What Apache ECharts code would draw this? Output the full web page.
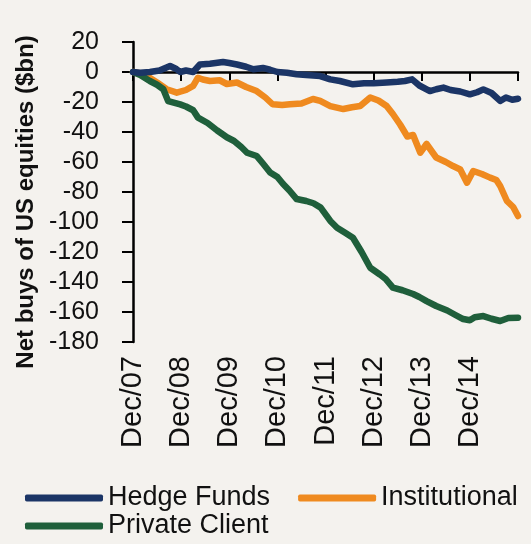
<!DOCTYPE html>
<html>
<head>
<meta charset="utf-8">
<script src="https://cdn.jsdelivr.net/npm/echarts@6/dist/echarts.min.js"></script>
<style>
html,body{margin:0;padding:0;background:#f4f2ee;}
#c{width:531px;height:544px;}
</style>
</head>
<body>
<div id="c"></div>
<script>
// Tick labels (x = years after Dec 2007)
var xTickLabels = ['Dec/07','Dec/08','Dec/09','Dec/10','Dec/11','Dec/12','Dec/13','Dec/14',''];
var seriesNames = ['Hedge Funds','Institutional','Private Client'];

// Hedge Funds: time (years after Dec 2007), value ($bn)
var hedgeT = [0,0.15,0.35,0.55,0.77,0.9,0.98,1.1,1.25,1.39,1.6,1.87,2.0,2.16,2.35,2.5,2.7,2.85,3.0,3.2,3.4,3.6,3.89,4.1,4.3,4.57,4.8,5.0,5.27,5.5,5.65,5.8,5.95,6.17,6.3,6.45,6.6,6.8,7.0,7.15,7.28,7.45,7.63,7.75,7.88,8.0];
var hedgeV = [0,-0.5,0,1,4,2,0,1,0,5,5.5,6.7,6,5,3.5,1.8,2.7,1.5,0,-0.5,-1.5,-2,-2.7,-4.9,-6,-8.2,-7.5,-7.5,-7,-6.5,-6,-4.9,-9,-12.7,-11.5,-10.4,-12,-13,-14.9,-13.5,-11.6,-14,-19.3,-17,-18.5,-17.8];

// Institutional
var instT = [0,0.15,0.29,0.5,0.7,0.91,1.1,1.25,1.35,1.45,1.6,1.8,1.95,2.16,2.35,2.57,2.75,2.9,3.1,3.26,3.5,3.74,3.89,4.1,4.37,4.55,4.72,4.93,5.1,5.27,5.4,5.55,5.7,5.82,5.97,6.1,6.3,6.5,6.65,6.8,6.94,7.07,7.25,7.42,7.55,7.63,7.77,7.9,8.0];
var instV = [0,-1,-2.7,-7,-11.5,-13.8,-12,-9.3,-3.8,-5,-6,-5.5,-8,-7,-10,-12.7,-17,-21.5,-22,-21.5,-21,-18,-19.3,-22.7,-24.7,-23.5,-22.7,-17,-19,-22.7,-28,-35,-43,-42,-53.8,-48,-57,-60,-62.7,-65,-73.8,-66,-68,-70.4,-72,-76,-86,-90,-96];

// Private Client
var privT = [0,0.15,0.35,0.5,0.63,0.73,0.98,1.1,1.25,1.35,1.55,1.75,1.95,2.1,2.25,2.37,2.57,2.7,2.85,3.0,3.12,3.25,3.4,3.6,3.75,3.9,4.1,4.24,4.4,4.57,4.75,4.93,5.13,5.25,5.4,5.6,5.82,5.95,6.1,6.3,6.53,6.7,6.86,7.0,7.1,7.28,7.45,7.63,7.8,8.0];
var privV = [0,-2,-6,-8.5,-11.5,-19.4,-21.6,-23,-25.5,-30.4,-34,-39,-43.5,-46,-50,-53.8,-56,-61,-67,-70,-74.7,-79,-84.7,-86,-87.5,-90.4,-99.3,-103.8,-107,-110.5,-120,-130.5,-135,-138,-143.8,-145.5,-148,-150,-152.7,-156,-159,-162,-164.7,-165.5,-163.5,-162.7,-164.5,-166,-164,-163.8];

function pairs(t, v){ return t.map(function(x,i){ return [x, v[i]]; }); }

var FONT = 'Liberation Sans, Arial, sans-serif';
var COLORS = ['#1b3566','#ef8a1f','#1f5f3b'];
var legendCommon = {
  left: 20, itemWidth: 78, itemHeight: 7, itemGap: 28, icon: 'roundRect',
  textStyle: {fontFamily: FONT, fontSize: 27, color: '#111', lineHeight: 28}
};
var chart = echarts.init(document.getElementById('c'), null, {renderer:'canvas'});
chart.setOption({
  backgroundColor: '#f4f2ee',
  animation: false,
  grid: {left: 133, right: 13, top: 42, bottom: 202, containLabel: false},
  legend: [
    Object.assign({top: 479, data: [seriesNames[0], seriesNames[1]]}, legendCommon),
    Object.assign({top: 507, data: [seriesNames[2]]}, legendCommon)
  ],
  xAxis: [{
    type: 'value', min: 0, max: 8, interval: 1,
    axisLine: {onZero: true, lineStyle: {color: '#000', width: 2.5}},
    axisTick: {show: true, length: 9, lineStyle: {color: '#000', width: 2}},
    axisLabel: {show: false},
    splitLine: {show: false}
  },{
    type: 'value', min: 0, max: 8, interval: 1, position: 'bottom',
    axisLine: {show: false, onZero: false},
    axisTick: {show: false},
    splitLine: {show: false},
    axisLabel: {
      show: true, rotate: 90, margin: 14,
      fontFamily: FONT, fontSize: 29, color: '#111',
      formatter: function(v){ return xTickLabels[Math.round(v)] || ''; }
    }
  }],
  yAxis: {
    type: 'value', min: -180, max: 20, interval: 20,
    name: 'Net buys of US equities ($bn)',
    nameLocation: 'middle', nameGap: 91,
    nameTextStyle: {fontFamily: FONT, fontSize: 24, fontWeight: 'bold', color: '#111', padding: [0, 20, 0, 0]},
    axisLine: {show: true, lineStyle: {color: '#000', width: 2.5}},
    axisTick: {show: true, length: 11, lineStyle: {color: '#000', width: 2}},
    axisLabel: {margin: 34, fontFamily: FONT, fontSize: 25, color: '#111'},
    splitLine: {show: false}
  },
  series: [
    {name: seriesNames[0], type: 'line', data: pairs(hedgeT, hedgeV), showSymbol: false, symbol: 'none',
     lineStyle: {color: COLORS[0], width: 6.5, cap: 'round', join: 'round'}, itemStyle: {color: COLORS[0]}, z: 3},
    {name: seriesNames[1], type: 'line', data: pairs(instT, instV), showSymbol: false, symbol: 'none',
     lineStyle: {color: COLORS[1], width: 6.5, cap: 'round', join: 'round'}, itemStyle: {color: COLORS[1]}, z: 2},
    {name: seriesNames[2], type: 'line', data: pairs(privT, privV), showSymbol: false, symbol: 'none',
     lineStyle: {color: COLORS[2], width: 6.5, cap: 'round', join: 'round'}, itemStyle: {color: COLORS[2]}, z: 2}
  ]
});
</script>
</body>
</html>
